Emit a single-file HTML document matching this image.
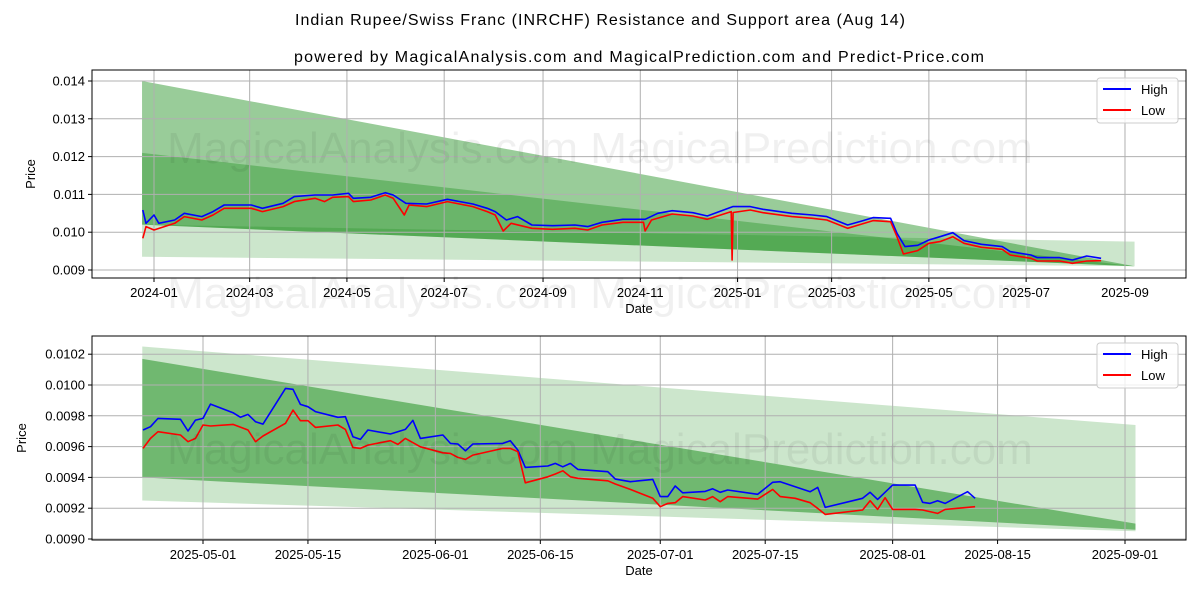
<!DOCTYPE html>
<html><head><meta charset="utf-8"><style>
body{margin:0;background:#fff}
svg{display:block;font-family:"Liberation Sans",sans-serif}
</style></head><body>
<svg id="s" width="1200" height="600" viewBox="0 0 1200 600" xmlns="http://www.w3.org/2000/svg">
<defs>
<clipPath id="ctop"><rect x="92" y="70" width="1094" height="208"/></clipPath>
<clipPath id="cbot"><rect x="92" y="336" width="1094" height="204"/></clipPath>
</defs>
<rect width="1200" height="600" fill="#fff"/>
<text x="600" y="25" text-anchor="middle" font-size="16" textLength="610">Indian Rupee/Swiss Franc (INRCHF) Resistance and Support area (Aug 14)</text>
<text x="639" y="62" text-anchor="middle" font-size="16" textLength="690">powered by MagicalAnalysis.com and MagicalPrediction.com and Predict-Price.com</text>
<g id="top"></g>
<g id="bot"></g>
</svg>
<script>
// ---- top panel data (days since 2024-01-01) ----
const topHighDays=[-7,-5,0,3,13,19,30,37,44,61,68,81,88,101,112,122,125,136,145,150,158,171,184,200,209,214,221,228,237,250,264,272,281,294,308,316,325,338,347,363,374,382,400,413,422,435,444,451,462,466,471,479,486,493,501,508,519,532,537,550,554,568,576,585,594];
const topHighVals=[.010588,.010235,.010456,.010235,.010323,.0105,.010412,.010544,.01072,.01072,.010632,.010764,.010941,.010985,.010985,.011029,.010897,.010923,.011046,.010985,.010764,.010747,.01087,.010747,.010632,.010544,.010323,.010412,.010191,.010173,.010191,.010147,.010262,.010341,.010341,.0105,.01057,.010517,.010429,.010676,.010676,.010606,.0105,.010456,.010412,.010191,.010297,.010385,.010367,.009971,.009618,.009653,.009794,.009882,.009988,.009777,.00968,.009618,.009486,.009398,.009327,.009327,.009265,.009371,.009309];
const topLowDays=[-7,-5,0,13,19,30,37,44,61,68,81,88,101,107,112,122,125,136,145,150,157,160,171,184,200,209,214,219,224,237,250,264,272,281,294,307,308,312,325,338,347,362,362.6,363.2,374,382,400,413,422,435,444,451,462,466,470,479,486,493,501,508,519,532,537,550,554,568,576,585,594];
const topLowVals=[.009838,.010147,.010059,.010235,.010412,.010323,.010456,.010632,.010632,.010544,.010676,.010809,.010897,.010809,.010923,.010941,.010809,.010853,.010985,.010897,.010456,.01072,.010676,.010809,.010676,.010544,.010456,.010032,.010235,.010103,.010077,.010103,.010059,.010191,.010262,.010262,.010032,.010323,.010482,.010429,.010341,.010544,.009265,.01052,.010588,.010517,.010412,.010368,.010323,.010103,.010218,.010306,.010279,.009882,.009424,.009512,.009706,.00975,.009882,.009706,.0096,.009547,.009398,.009309,.009239,.009239,.009177,.009239,.009247];
const topTickVals=[0.009,0.010,0.011,0.012,0.013,0.014];
const topTickLabels=["0.009","0.010","0.011","0.012","0.013","0.014"];
const topXTickDays=[0,60,121,182,244,305,366,425,486,547,609];
const topXTickLabels=["2024-01","2024-03","2024-05","2024-07","2024-09","2024-11","2025-01","2025-03","2025-05","2025-07","2025-09"];
const topBandDays=[-7.5,615];
const topBandA=[[.0140,.0091],[.0102,.0091]];
const topBandB=[[.0121,.0091],[.0102,.0091]];
const topBandC=[[.0102,.00975],[.00935,.0091]];
// ---- bottom panel data (days since 2025-05-01) ----
const botHighDays=[-8,-7,-6,-3,-2,-1,0,1,4,5,6,7,8,11,12,13,14,15,18,19,20,21,22,25,27,28,29,32,33,34,35,36,40,41,42,43,46,47,48,49,50,54,55,57,60,61,62,63,64,67,68,69,70,74,76,77,79,81,82,83,88,89,90,92,95,96,97,98,99,102,103];
const botHighVals=[.009708,.009729,.009783,.009777,.009701,.009772,.009783,.009876,.00982,.00979,.009809,.009762,.009746,.009978,.009972,.009874,.009859,.009827,.00979,.009794,.009664,.009647,.009708,.009682,.009712,.00977,.009653,.009675,.009621,.009617,.009573,.009617,.009621,.009638,.009578,.009465,.009474,.009491,.009469,.009491,.009452,.009437,.009389,.009372,.009387,.009275,.009275,.009344,.0093,.009309,.009326,.009303,.009318,.00929,.009368,.009372,.009339,.009307,.009335,.009205,.009264,.009303,.009257,.00935,.00935,.009238,.009231,.009249,.009231,.009307,.009264];
const botLowDays=[-8,-7,-6,-3,-2,-1,0,1,4,6,7,8,11,12,13,14,15,18,19,20,21,22,25,26,27,29,32,33,34,35,36,40,41,42,43,46,47,48,49,50,54,55,57,60,61,62,63,64,67,68,69,70,74,76,77,79,81,82,83,88,89,90,91,92,95,96,98,99,103];
const botLowVals=[.009588,.009653,.009697,.009675,.009632,.009653,.00974,.009734,.009744,.009708,.009632,.009669,.009751,.009837,.009768,.009768,.009725,.00974,.009712,.009595,.009588,.00961,.009638,.009614,.009653,.009599,.00956,.009556,.00953,.009517,.009545,.009588,.009588,.009567,.009365,.009404,.009422,.009443,.009404,.009394,.009378,.009357,.009322,.009264,.00921,.009231,.009236,.009275,.009253,.009275,.009242,.009275,.009259,.009322,.009275,.009264,.009236,.009199,.00916,.009188,.009249,.009192,.009268,.009192,.009192,.009188,.009166,.009192,.00921];
const botTickVals=[0.0090,0.0092,0.0094,0.0096,0.0098,0.0100,0.0102];
const botTickLabels=["0.0090","0.0092","0.0094","0.0096","0.0098","0.0100","0.0102"];
const botXTickDays=[0,14,31,45,61,75,92,106,123];
const botXTickLabels=["2025-05-01","2025-05-15","2025-06-01","2025-06-15","2025-07-01","2025-07-15","2025-08-01","2025-08-15","2025-09-01"];
const botBandDays=[-8.1,124.4];
const botBandL1=[[.01025,.00974],[.00925,.00905]];
const botBandL2=[[.01017,.0091],[.0094,.00906]];

const NS="http://www.w3.org/2000/svg";
function mk(parent,tag,attrs,text){const e=document.createElementNS(NS,tag);for(const k in attrs)e.setAttribute(k,attrs[k]);if(text!==undefined)e.textContent=text;parent.appendChild(e);return e;}

function panel(g,cfg){
  const {x0,x1,y0,y1,xs,ys}=cfg;
  const cg=mk(g,'g',{'clip-path':'url(#'+cfg.clip+')'});
  
  
  cfg.bands.forEach((b,i)=>{
    const [top,bot]=b.v;
    const d=cfg.bandDays;
    const pts=[[xs(d[0]),ys(top[0])],[xs(d[1]),ys(top[1])],[xs(d[1]),ys(bot[1])],[xs(d[0]),ys(bot[0])]];
    const p=mk(cg,'polygon',{points:pts.map(q=>q.join(',')).join(' '),fill:'#008000','fill-opacity':b.a});
    
    
  });
  cfg.yt.forEach((v,i)=>{
    const y=ys(v);
    const l=mk(cg,'line',{x1:x0,x2:x1,y1:y,y2:y,stroke:'#b0b0b0','stroke-width':1});
    
    
    mk(g,'line',{x1:x0-4,x2:x0,y1:y,y2:y,stroke:'#000'});
    const t=mk(g,'text',{x:x0-7,y:y+4.5,'text-anchor':'end','font-size':13},cfg.ytl[i]);
    
    
  });
  cfg.xt.forEach((d,i)=>{
    const x=xs(d);
    const l=mk(cg,'line',{x1:x,x2:x,y1:y0,y2:y1,stroke:'#b0b0b0','stroke-width':1});
    
    
    mk(g,'line',{x1:x,x2:x,y1:y1,y2:y1+4,stroke:'#000'});
    const t=mk(g,'text',{x:x,y:y1+19,'text-anchor':'middle','font-size':13},cfg.xtl[i]);
    
    
  });
  cfg.wm.forEach(y=>{
    const w=mk(g,'text',{x:600,y:y,'text-anchor':'middle','font-size':44,fill:'#000','fill-opacity':0.06},'MagicalAnalysis.com    MagicalPrediction.com');
    
    
  });
  const line=(days,vals,color,name)=>{
    const pts=days.map((d,i)=>xs(d).toFixed(1)+','+ys(vals[i]).toFixed(1)).join(' ');
    const p=mk(cg,'polyline',{points:pts,fill:'none',stroke:color,'stroke-width':1.6,'stroke-linejoin':'round'});
    
    
  };
  line(cfg.hd,cfg.hv,'#0000ff','high-line');
  line(cfg.ld,cfg.lv,'#ff0000','low-line');
  mk(g,'rect',{x:x0,y:y0,width:x1-x0,height:y1-y0,fill:'none',stroke:'#000','stroke-width':1});
  const xl=mk(g,'text',{x:(x0+x1)/2,y:y1+35,'text-anchor':'middle','font-size':13},'Date');
  
  
  const yl=mk(g,'text',{x:0,y:0,'text-anchor':'middle','font-size':13,transform:`translate(${cfg.ylx},${(y0+y1)/2}) rotate(-90)`},'Price');
  
  
  const lg=mk(g,'g',{});
  
  
  const ly=cfg.legY;
  mk(lg,'rect',{x:1097,y:ly,width:81,height:45,rx:3,fill:'#fff','fill-opacity':0.8,stroke:'#ccc'});
  [['High','#0000ff'],['Low','#ff0000']].forEach((e,i)=>{
    const eg=mk(lg,'g',{});
    
    
    mk(eg,'line',{x1:1103,x2:1131,y1:ly+11+i*21,y2:ly+11+i*21,stroke:e[1],'stroke-width':2});
    mk(eg,'text',{x:1141,y:ly+16+i*21,'font-size':13},e[0]);
  });
}

const T={x0:92,x1:1186,y0:70,y1:278,clip:'ctop'};
T.xs=d=>154+d*1.5944; T.ys=v=>270-(v-0.009)*37800;
panel(document.getElementById('top'),Object.assign(T,{bands:[{v:topBandA,a:.4},{v:topBandB,a:.3},{v:topBandC,a:.2}],bandDays:topBandDays,yt:topTickVals,ytl:topTickLabels,xt:topXTickDays,xtl:topXTickLabels,hd:topHighDays,hv:topHighVals,ld:topLowDays,lv:topLowVals,wm:[163,308],ylx:35,legY:78}));

const B={x0:92,x1:1186,y0:336,y1:540,clip:'cbot'};
B.xs=d=>203+d*7.496; B.ys=v=>539-(v-0.009)*154000;
panel(document.getElementById('bot'),Object.assign(B,{bands:[{v:botBandL1,a:.2},{v:botBandL2,a:.45}],bandDays:botBandDays,yt:botTickVals,ytl:botTickLabels,xt:botXTickDays,xtl:botXTickLabels,hd:botHighDays,hv:botHighVals,ld:botLowDays,lv:botLowVals,wm:[464],ylx:26,legY:343}));
</script>
</body></html>
